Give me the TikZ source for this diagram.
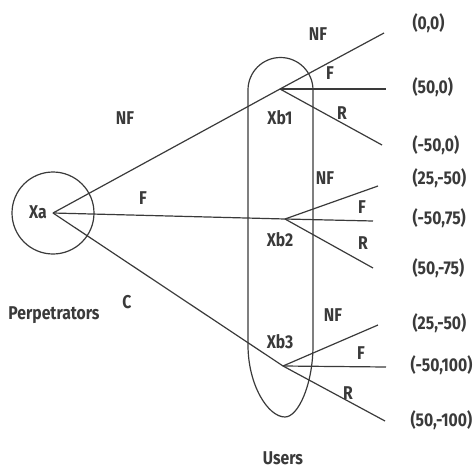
\documentclass[tikz,border=0pt]{standalone}
\usepackage{fontspec}
\setmainfont[FakeStretch=0.85]{Fira Sans}
\definecolor{ink}{HTML}{3A3A3A}
\begin{document}
\begin{tikzpicture}[x=1pt,y=-1pt,line width=1.2pt,
  lbl/.style={text=ink,font=\fontsize{18.5}{20}\selectfont\bfseries,inner sep=0pt},
  pay/.style={lbl,anchor=west},
  edge/.style={draw=ink}]
\useasboundingbox (0,0) rectangle (475,469);
% branch points
\coordinate (xa) at (53,213);
\coordinate (b1) at (280,89);
\coordinate (b2) at (285,219);
\coordinate (b3) at (283,366);
% leaves
\coordinate (l1) at (384,33);
\coordinate (l2) at (386,89);
\coordinate (l3) at (382,145);
\coordinate (l4) at (378,186);
\coordinate (l5) at (373,221);
\coordinate (l6) at (373,268);
\coordinate (l7) at (378,325);
\coordinate (l8) at (386,367);
\coordinate (l9) at (385,421);
% Xa circle
\node[draw=ink,circle,minimum size=82pt,inner sep=0pt] (circ) at (xa) {};
\node[lbl] (xal) at (38,212) {Xa};
% users capsule
\draw[ink] (248,90) arc[start angle=180,end angle=360,radius=32.5] -- (313,345)
  .. controls (313,385) and (298,417) .. (285,417)
  .. controls (268,417) and (248,385) .. (248,345) -- cycle;
% edges
\draw[edge] (xa) -- (b1);
\draw[edge] (xa) -- (b2);
\draw[edge] (xa) -- (b3);
\draw[edge] (b1) -- (l1);
\draw[edge] (b1) -- (l2);
\draw[edge] (b1) -- (l3);
\draw[edge] (b2) -- (l4);
\draw[edge] (b2) -- (l5);
\draw[edge] (b2) -- (l6);
\draw[edge] (b3) -- (l7);
\draw[edge] (b3) -- (l8);
\draw[edge] (b3) -- (l9);
% labels
\node[lbl] (nfa) at (125,118) {NF};
\node[lbl] (fa) at (143,198) {F};
\node[lbl] (ca) at (127,302) {C};
\node[lbl] (perp) at (54,315) {Perpetrators};
\node[lbl] (users) at (283,458) {Users};
\node[lbl] (xb1) at (280,118) {Xb1};
\node[lbl] (xb2) at (280,240) {Xb2};
\node[lbl] (xb3) at (280,342) {Xb3};
\node[lbl] (nf1) at (318,34) {NF};
\node[lbl] (f1) at (330,73) {F};
\node[lbl] (r1) at (342,113) {R};
\node[lbl] (nf2) at (325,178) {NF};
\node[lbl] (f2) at (362,207) {F};
\node[lbl] (r2) at (363,243) {R};
\node[lbl] (nf3) at (333,315) {NF};
\node[lbl] (f3) at (361,353) {F};
\node[lbl] (r3) at (348,393) {R};
\node[pay] (p1) at (412,23) {(0,0)};
\node[pay] (p2) at (412,87) {(50,0)};
\node[pay] (p3) at (412,145) {(-50,0)};
\node[pay] (p4) at (412,178) {(25,-50)};
\node[pay] (p5) at (412,218) {(-50,75)};
\node[pay] (p6) at (412,268) {(50,-75)};
\node[pay] (p7) at (412,323) {(25,-50)};
\node[pay] (p8) at (410,365) {(-50,100)};
\node[pay] (p9) at (410,420) {(50,-100)};
\end{tikzpicture}
\end{document}
